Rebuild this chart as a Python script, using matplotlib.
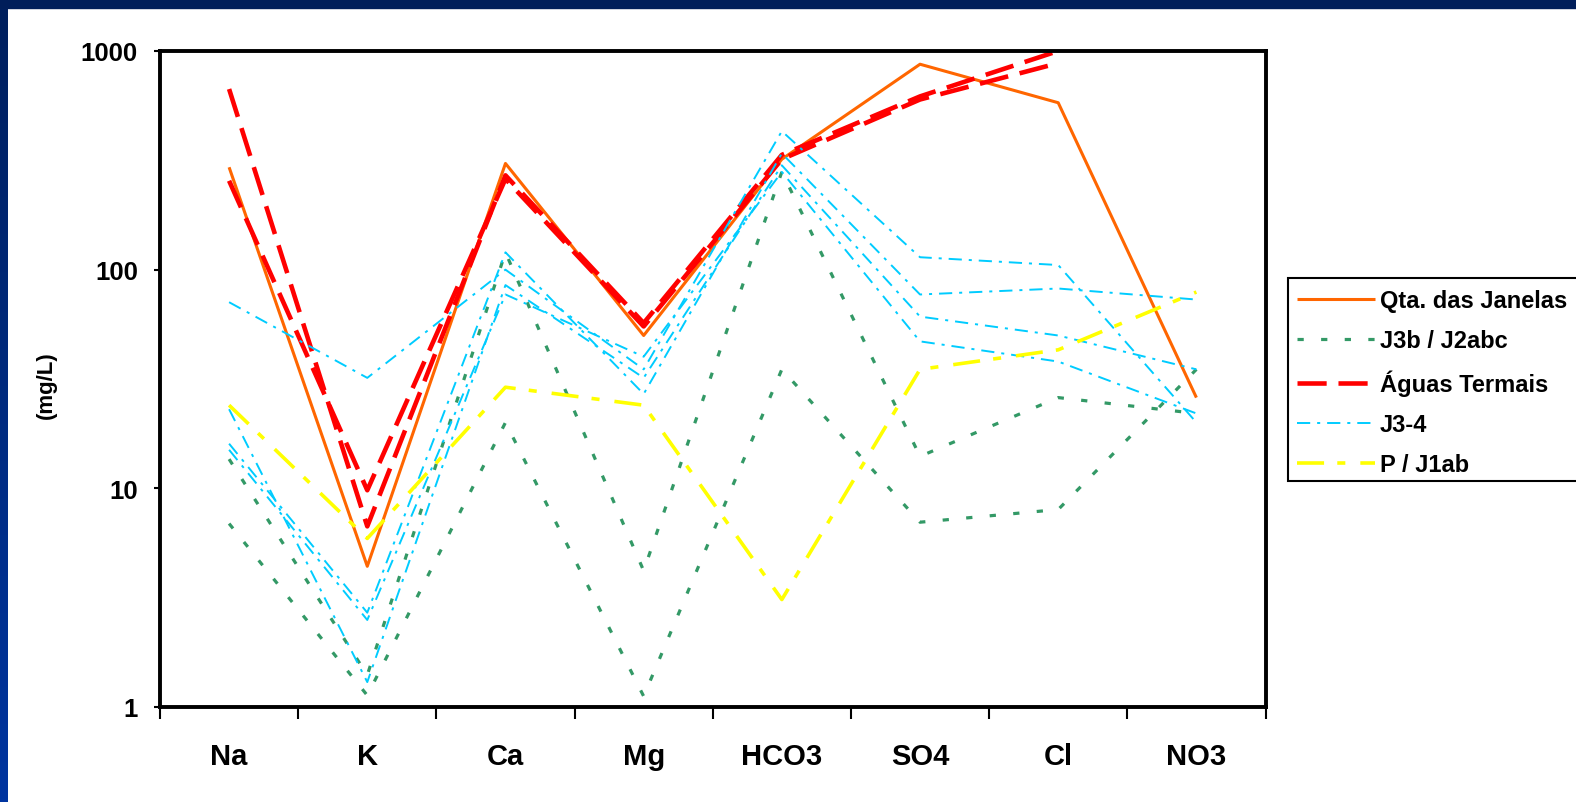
import numpy as np
import matplotlib.pyplot as plt
from matplotlib.patches import Rectangle
from matplotlib.ticker import NullLocator

plt.rcParams['font.family'] = ['Liberation Sans', 'DejaVu Sans']
plt.rcParams['font.weight'] = 'bold'
plt.rcParams['lines.scale_dashes'] = False

ions = ["Na", "K", "Ca", "Mg", "HCO3", "SO4", "Cl", "NO3"]
y_ticks = [1, 10, 100, 1000]

# Qta. das Janelas
janelas = [294, 4.4, 306, 50, 320, 870, 580, 26]

# J3b / J2abc
j3b_a = [13.6, 1.4, 120, 4.2, 280, 14, 26, 22]
j3b_b = [6.9, 1.13, 20, 1.12, 35, 7.0, 8.0, 35]

# Águas Termais (no NO3 analysis)
termais_a = [670, 6.7, 270, 57, 335, 620, 1000, np.nan]
termais_b = [255, 9.8, 260, 55, 320, 600, 880, np.nan]

# J3-4
j34_a = [71, 32, 100, 35, 430, 114, 105, 20]
j34_b = [16, 2.7, 120, 27, 340, 77, 82, 73]
j34_c = [23, 1.3, 85, 32, 300, 61, 50, 35]
j34_d = [15, 2.5, 77, 40, 280, 47, 38, 22]

# P / J1ab
pj1ab = [24, 5.9, 29, 24, 3.1, 35, 43, 79]

W, H = 1576, 803
fig = plt.figure(figsize=(W / 100, H / 100), dpi=100)
fig.patch.set_facecolor('white')

# slide frame: dark top band and blue left band
fig.patches.append(Rectangle((0, 1 - 9 / H), 1, 9 / H, transform=fig.transFigure,
                             color='#001E5A', zorder=0))
band = fig.add_axes([0, 0, 8 / W, 1 - 9 / H])
band.imshow(np.linspace(0, 1, 256).reshape(-1, 1), aspect='auto',
            cmap=plt.matplotlib.colors.LinearSegmentedColormap.from_list(
                'band', ['#00205E', '#0035A0']))
band.axis('off')

left, right, top, bottom = 160, 1265.5, 52, 708
ax = fig.add_axes([left / W, 1 - bottom / H, (right - left) / W, (bottom - top) / H])
x = np.arange(len(ions))

styles = {
    'orange': dict(color='#FF6600', lw=2.2, ls='-'),
    'green': dict(color='#339966', lw=2.3, ls=(0, (4.5, 12.5))),
    'red': dict(color='#FF0000', lw=3.3, ls=(0, (21, 8.5))),
    'cyan': dict(color='#00CCFF', lw=1.4, ls=(0, (9.5, 5, 2.2, 5))),
    'yellow': dict(color='#FFFF00', lw=2.6, ls=(0, (19.5, 9.5, 5.8, 10.8))),
}

h_or, = ax.plot(x, janelas, **styles['orange'], solid_capstyle='butt')
h_gr = None
for s in (j3b_a, j3b_b):
    h_gr, = ax.plot(x, s, **styles['green'], dash_capstyle='butt')
h_rd = None
for s in (termais_a, termais_b):
    h_rd, = ax.plot(x, s, **styles['red'], dash_capstyle='butt')
h_cy = None
for s in (j34_a, j34_b, j34_c, j34_d):
    h_cy, = ax.plot(x, s, **styles['cyan'], dash_capstyle='butt')
h_ye, = ax.plot(x, pj1ab, **styles['yellow'], dash_capstyle='butt')

ax.set_yscale('log')
ax.set_ylim(1, 1000)
ax.set_xlim(-0.5, len(ions) - 0.5)
ax.set_yticks(y_ticks)
ax.set_yticklabels([str(v) for v in y_ticks])
ax.yaxis.set_minor_locator(NullLocator())
ax.tick_params(axis='y', length=4, width=1.5, pad=12, labelsize=18.5,
               direction='out')

ax.set_xticks(np.arange(-0.5, len(ions), 1))
ax.set_xticklabels([])
ax.set_xticks(x, minor=True)
ax.set_xticklabels(ions, minor=True)
ax.tick_params(axis='x', which='major', length=8.5, width=1.5, direction='out')
ax.tick_params(axis='x', which='minor', length=0, pad=25, labelsize=21)

for sp in ax.spines.values():
    sp.set_linewidth(2.8)
    sp.set_color('black')

fig.text(46 / W, 1 - 385 / H, '(mg/L)', rotation=90, ha='center', va='center',
         fontsize=16)

# legend box runs past the right edge of the slide
fig.patches.append(Rectangle((1288 / W, 1 - 482 / H), (1620 - 1288) / W, (482 - 279) / H,
                             transform=fig.transFigure, facecolor='white',
                             edgecolor='black', linewidth=1.5, zorder=2))
leg = fig.legend([h_or, h_gr, h_rd, h_cy, h_ye],
                 ['Qta. das Janelas', 'J3b / J2abc', 'Águas Termais', 'J3-4', 'P / J1ab'],
                 loc='upper left', bbox_to_anchor=(1288 / W, 1 - 281 / H),
                 fontsize=17, handlelength=3.3, handletextpad=0.2,
                 labelspacing=0.73, borderpad=0.38, borderaxespad=0,
                 frameon=False)
leg.set_zorder(3)

fig.savefig('out.png', dpi=100)
